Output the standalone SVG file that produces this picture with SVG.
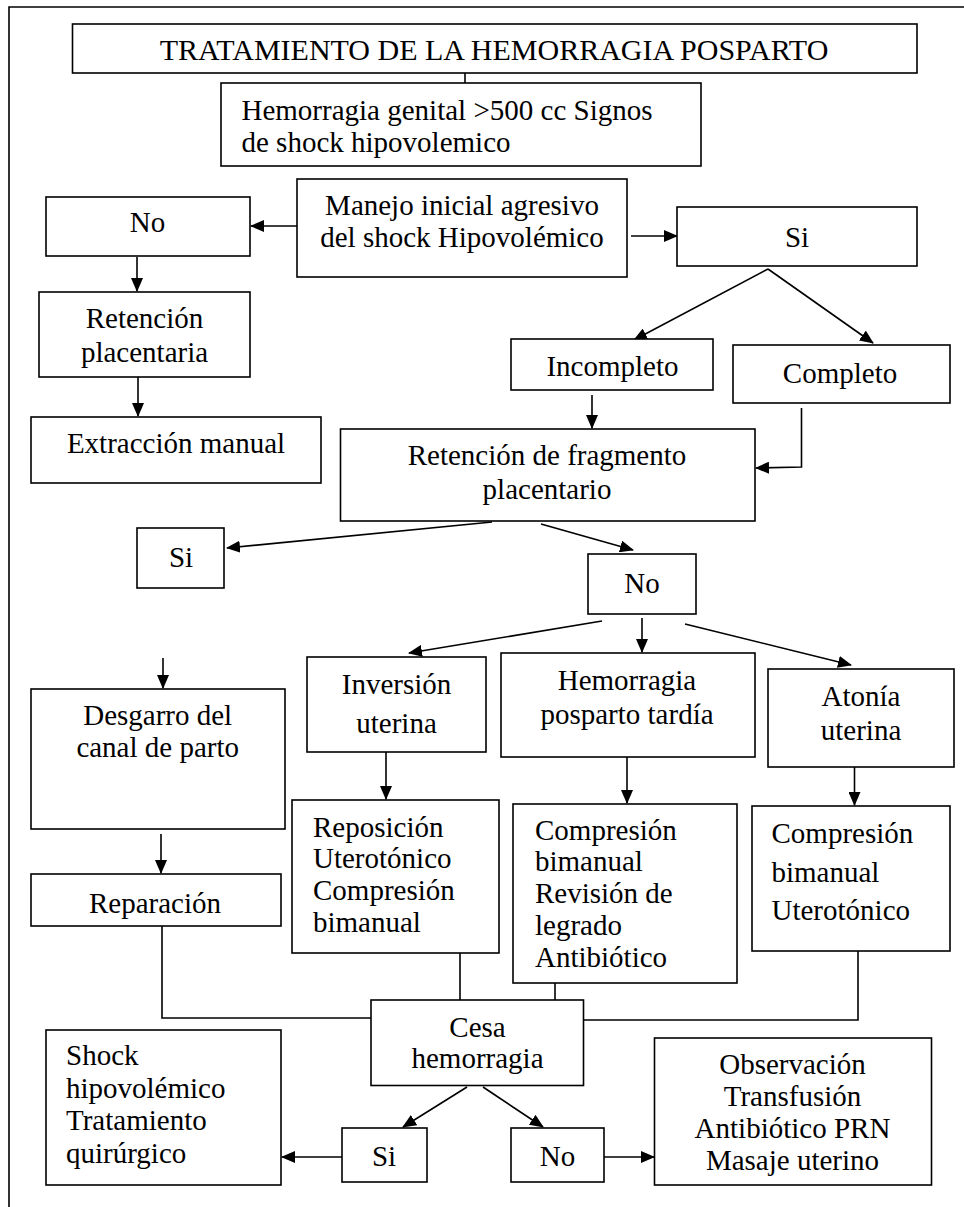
<svg xmlns="http://www.w3.org/2000/svg" width="964" height="1207" viewBox="0 0 964 1207">
<defs>
<style>
.b{fill:#fff;stroke:#000;stroke-width:1.6}
.t{font-family:"Liberation Serif","Times New Roman",serif;font-size:29px;fill:#000}
.c{text-anchor:middle}
.l{fill:none;stroke:#000;stroke-width:1.6}
.a{fill:none;stroke:#000;stroke-width:1.6;marker-end:url(#ah)}
</style>
<marker id="ah" markerWidth="14" markerHeight="12" refX="13" refY="6" orient="auto" markerUnits="userSpaceOnUse"><path d="M0,0 L14,6 L0,12 z" fill="#000"/></marker>
</defs>
<rect width="964" height="1207" fill="#fff"/>
<g id="frame"><path class="l" d="M9,1207 V7 H964"/></g>
<g id="connectors">
<line class="l" x1="465" y1="73" x2="465" y2="83"/>
<line class="a" x1="297" y1="226" x2="251" y2="226"/>
<line class="a" x1="631" y1="236" x2="677" y2="236"/>
<line class="a" x1="137" y1="257" x2="137" y2="291"/>
<line class="a" x1="768" y1="269" x2="634" y2="340"/>
<line class="a" x1="768" y1="269" x2="873" y2="343"/>
<line class="a" x1="138" y1="377" x2="138" y2="416"/>
<line class="a" x1="592" y1="395" x2="592" y2="428"/>
<polyline class="a" points="801.5,408 801.5,467 756,468"/>
<line class="a" x1="492" y1="522" x2="227" y2="548"/>
<line class="a" x1="541" y1="524" x2="633" y2="550"/>
<line class="a" x1="602" y1="621" x2="409" y2="653"/>
<line class="a" x1="642" y1="618" x2="642" y2="652"/>
<line class="a" x1="685" y1="624" x2="851" y2="665"/>
<line class="a" x1="163" y1="658" x2="163" y2="688"/>
<line class="a" x1="161" y1="834" x2="161" y2="873"/>
<line class="a" x1="386" y1="752" x2="386" y2="799"/>
<line class="a" x1="627" y1="757" x2="627" y2="803"/>
<line class="a" x1="854.5" y1="767" x2="854.5" y2="805"/>
<polyline class="l" points="162,926 162,1018 371,1018"/>
<line class="l" x1="460" y1="953" x2="460" y2="1000"/>
<line class="l" x1="555" y1="983" x2="555" y2="1000"/>
<polyline class="l" points="858,951 858,1020 584,1020"/>
<line class="a" x1="467" y1="1087" x2="403" y2="1127"/>
<line class="a" x1="483" y1="1087" x2="543" y2="1127"/>
<line class="a" x1="342" y1="1157" x2="282" y2="1157"/>
<line class="a" x1="604" y1="1157" x2="654" y2="1157"/>
</g>
<g id="title"><rect class="b" x="72.5" y="24" width="844.5" height="49"/><text class="t c" x="494" y="60" style="font-size:30px">TRATAMIENTO DE LA HEMORRAGIA POSPARTO</text></g>
<g id="hemorragia"><rect class="b" x="221" y="83" width="480" height="83"/><text class="t" x="241.5" y="120">Hemorragia genital &gt;500 cc Signos</text><text class="t" x="241.5" y="152">de shock hipovolemico</text></g>
<g id="manejo"><rect class="b" x="297" y="179" width="330" height="98"/><text class="t c" x="462" y="215">Manejo inicial agresivo</text><text class="t c" x="462" y="247">del shock Hipovolémico</text></g>
<g id="no1"><rect class="b" x="46" y="197" width="204" height="59"/><text class="t c" x="147.5" y="232">No</text></g>
<g id="si1"><rect class="b" x="677" y="207" width="240" height="59"/><text class="t c" x="797" y="247">Si</text></g>
<g id="retencion"><rect class="b" x="39" y="292" width="211" height="85"/><text class="t c" x="144.5" y="328">Retención</text><text class="t c" x="144.5" y="362">placentaria</text></g>
<g id="extraccion"><rect class="b" x="31" y="417" width="290" height="66"/><text class="t c" x="176" y="453">Extracción manual</text></g>
<g id="incompleto"><rect class="b" x="511" y="339" width="202" height="51"/><text class="t c" x="612.5" y="376">Incompleto</text></g>
<g id="completo"><rect class="b" x="733" y="345" width="217" height="58"/><text class="t c" x="840" y="383">Completo</text></g>
<g id="fragmento"><rect class="b" x="340.5" y="429" width="414.5" height="92"/><text class="t c" x="547" y="465">Retención de fragmento</text><text class="t c" x="547" y="499">placentario</text></g>
<g id="si2"><rect class="b" x="137" y="528" width="87" height="60"/><text class="t c" x="181" y="567">Si</text></g>
<g id="no2"><rect class="b" x="588" y="554" width="108" height="60"/><text class="t c" x="642" y="593">No</text></g>
<g id="desgarro"><rect class="b" x="31" y="689" width="254" height="140"/><text class="t c" x="157.7" y="725">Desgarro del</text><text class="t c" x="157.7" y="757">canal de parto</text></g>
<g id="inversion"><rect class="b" x="307" y="657" width="179" height="95"/><text class="t c" x="396.5" y="694">Inversión</text><text class="t c" x="396.5" y="733">uterina</text></g>
<g id="tardia"><rect class="b" x="501" y="653" width="254" height="104"/><text class="t c" x="627" y="690">Hemorragia</text><text class="t c" x="627" y="724">posparto tardía</text></g>
<g id="atonia"><rect class="b" x="768" y="669" width="186" height="98"/><text class="t c" x="861" y="706">Atonía</text><text class="t c" x="861" y="740">uterina</text></g>
<g id="reparacion"><rect class="b" x="31" y="874" width="250" height="52"/><text class="t c" x="155" y="913">Reparación</text></g>
<g id="reposicion"><rect class="b" x="292" y="800" width="207" height="153"/><text class="t" x="313" y="837">Reposición</text><text class="t" x="313" y="868">Uterotónico</text><text class="t" x="313" y="900">Compresión</text><text class="t" x="313" y="932">bimanual</text></g>
<g id="compresion1"><rect class="b" x="513" y="804" width="224" height="179"/><text class="t" x="535" y="840">Compresión</text><text class="t" x="535" y="871">bimanual</text><text class="t" x="535" y="903">Revisión de</text><text class="t" x="535" y="935">legrado</text><text class="t" x="535" y="967">Antibiótico</text></g>
<g id="compresion2"><rect class="b" x="752" y="806" width="198" height="145"/><text class="t" x="771.5" y="843">Compresión</text><text class="t" x="771.5" y="882">bimanual</text><text class="t" x="771.5" y="920">Uterotónico</text></g>
<g id="cesa"><rect class="b" x="371" y="1000" width="212.5" height="85.5"/><text class="t c" x="477.5" y="1037">Cesa</text><text class="t c" x="477.5" y="1068">hemorragia</text></g>
<g id="shock"><rect class="b" x="46" y="1030" width="235" height="155"/><text class="t" x="66" y="1065">Shock</text><text class="t" x="66" y="1098">hipovolémico</text><text class="t" x="66" y="1130">Tratamiento</text><text class="t" x="66" y="1163">quirúrgico</text></g>
<g id="si3"><rect class="b" x="342" y="1128" width="85" height="54"/><text class="t c" x="384" y="1166">Si</text></g>
<g id="no3"><rect class="b" x="511" y="1128" width="93" height="54"/><text class="t c" x="557.5" y="1166">No</text></g>
<g id="observacion"><rect class="b" x="654.5" y="1038" width="277" height="147"/><text class="t c" x="792.5" y="1074">Observación</text><text class="t c" x="792.5" y="1106">Transfusión</text><text class="t c" x="792.5" y="1138">Antibiótico PRN</text><text class="t c" x="792.5" y="1170">Masaje uterino</text></g>
</svg>
